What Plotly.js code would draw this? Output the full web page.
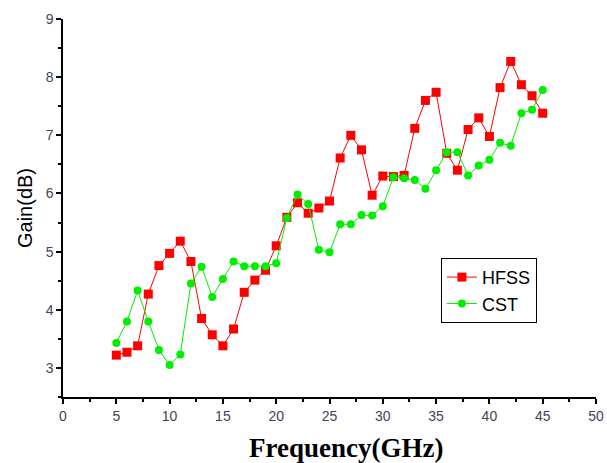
<!DOCTYPE html>
<html><head><meta charset="utf-8">
<script src="https://cdn.plot.ly/plotly-3.0.1.min.js"></script>
<style>html,body{margin:0;padding:0;background:#fff}</style>
</head><body><div id="chart" style="width:607px;height:463px"></div>
<script>
const freq = [5,6,7,8,9,10,11,12,13,14,15,16,17,18,19,20,21,22,23,24,25,26,27,28,29,30,31,32,33,34,35,36,37,38,39,40,41,42,43,44,45];
const hfss = [3.22,3.27,3.38,4.27,4.76,4.97,5.18,4.83,3.85,3.57,3.38,3.67,4.30,4.51,4.68,5.10,5.59,5.84,5.66,5.75,5.87,6.61,7.00,6.75,5.97,6.30,6.29,6.31,7.12,7.60,7.74,6.69,6.40,7.10,7.30,6.98,7.82,8.27,7.87,7.68,7.38];
const cst  = [3.43,3.80,4.33,3.80,3.31,3.05,3.23,4.45,4.74,4.22,4.53,4.83,4.75,4.75,4.75,4.80,5.58,5.98,5.82,5.03,4.99,5.47,5.47,5.63,5.62,5.78,6.28,6.26,6.23,6.08,6.40,6.71,6.71,6.31,6.48,6.58,6.87,6.82,7.38,7.44,7.78];

const traces = [
  {x: freq, y: hfss, name: 'HFSS', mode: 'lines+markers', type: 'scatter',
   line: {color: '#ff0000', width: 1}, marker: {symbol: 'square', size: 9, color: '#ff0000'}},
  {x: freq, y: cst, name: 'CST', mode: 'lines+markers', type: 'scatter',
   line: {color: '#00ee00', width: 1}, marker: {symbol: 'circle', size: 8, color: '#00ee00'}}
];
const tickFont = {family: 'Liberation Sans, Arial, sans-serif', size: 14, color: '#3f4456'};
const layout = {
  width: 607, height: 463,
  margin: {l: 63, r: 11, t: 19, b: 66},
  paper_bgcolor: '#fff', plot_bgcolor: '#fff',
  showlegend: true,
  legend: {x: 0.709, y: 0.368, xanchor: 'left', yanchor: 'top', bordercolor: '#000', borderwidth: 1,
    font: {family: 'Liberation Sans, Arial, sans-serif', size: 18, color: '#000'}, bgcolor: '#fff'},
  xaxis: {range: [0, 50], dtick: 5, tick0: 0, showgrid: false, zeroline: false,
    showline: true, linecolor: '#000', linewidth: 1.5, ticks: 'outside', ticklen: 5, tickwidth: 1.5, tickcolor: '#000',
    minor: {dtick: 2.5, ticks: 'outside', ticklen: 3, tickwidth: 1.5, tickcolor: '#000', showgrid: false},
    tickfont: tickFont},
  yaxis: {range: [2.5, 9], dtick: 1, tick0: 0, showgrid: false, zeroline: false,
    showline: true, linecolor: '#000', linewidth: 1.5, ticks: 'outside', ticklen: 5, tickwidth: 1.5, tickcolor: '#000',
    minor: {dtick: 0.5, ticks: 'outside', ticklen: 3, tickwidth: 1.5, tickcolor: '#000', showgrid: false},
    tickfont: tickFont,
    title: {text: 'Gain(dB)', font: {family: 'Liberation Sans, Arial, sans-serif', size: 20, color: '#000'}, standoff: 8}},
  annotations: [{text: 'Frequency(GHz)', xref: 'paper', yref: 'paper', x: 0.531, y: -0.135,
    xanchor: 'center', yanchor: 'middle', showarrow: false,
    font: {family: 'Liberation Serif, serif', size: 27, color: '#000', weight: 'bold'}}]
};
Plotly.newPlot('chart', traces, layout, {displayModeBar: false});
</script></body></html>
